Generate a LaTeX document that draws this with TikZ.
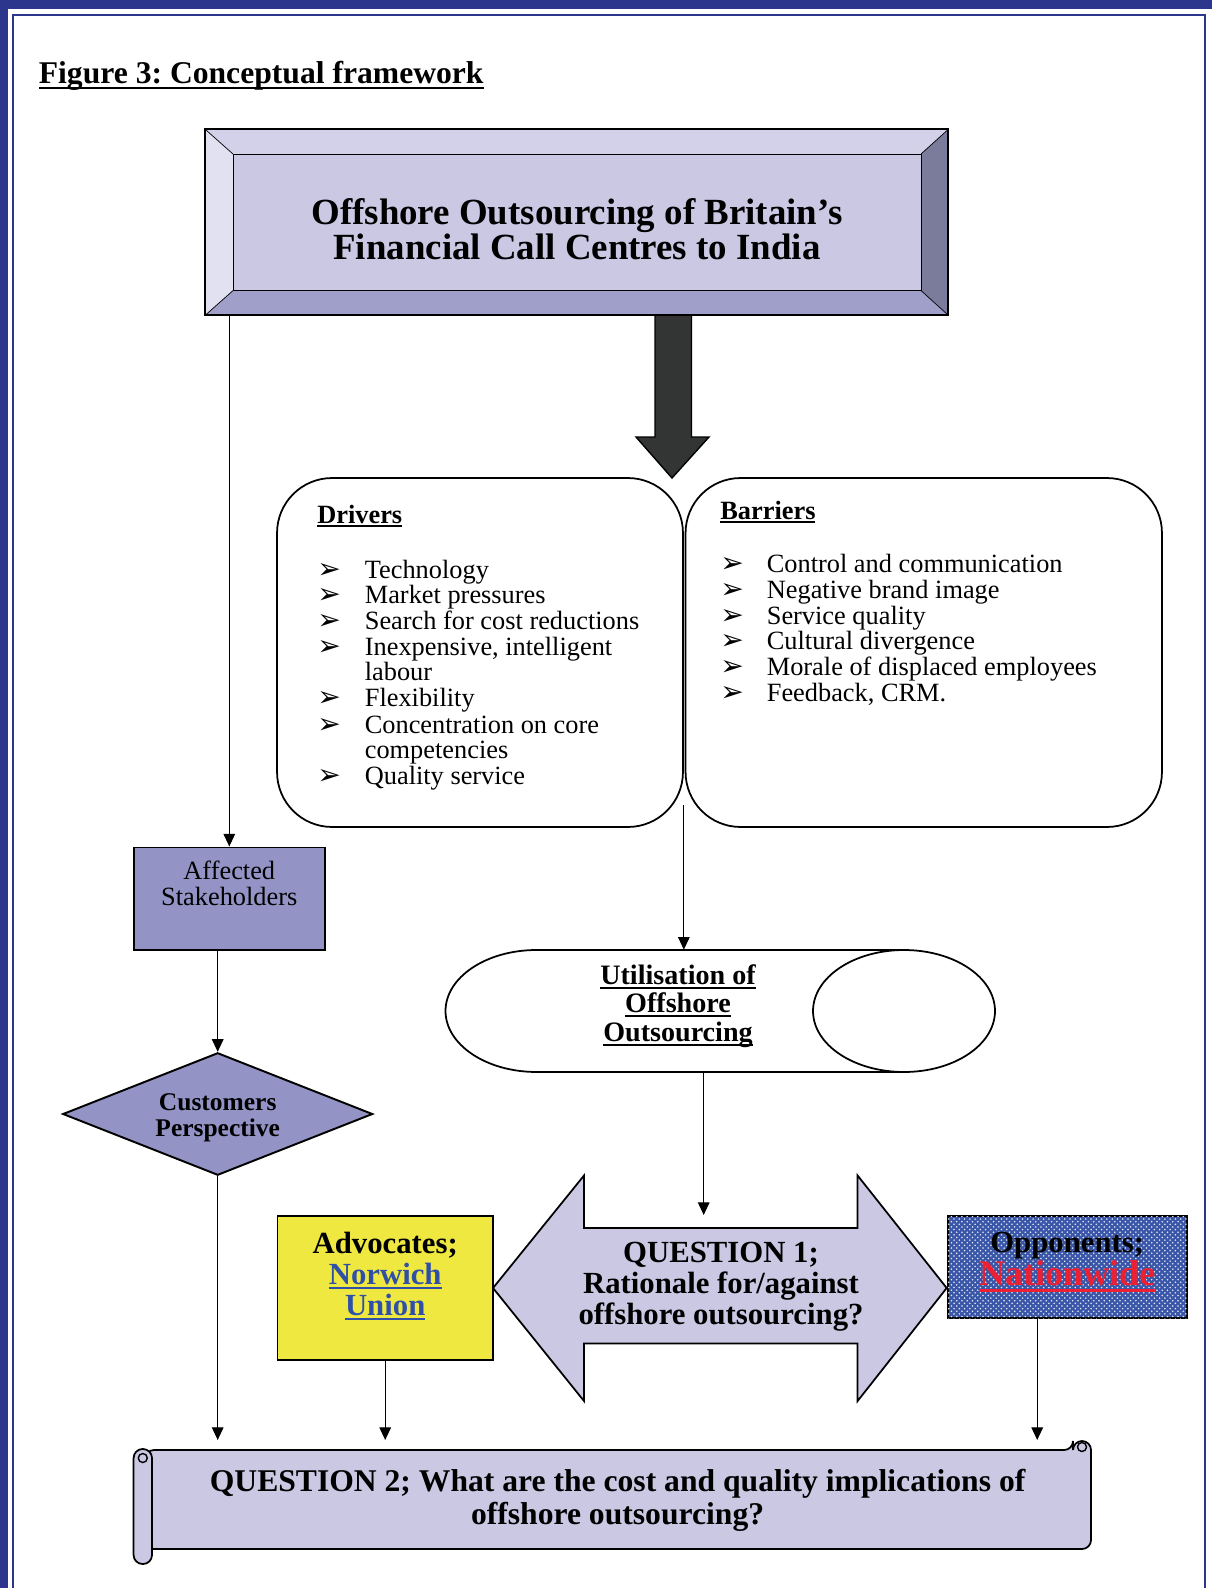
\documentclass[tikz,border=0pt]{standalone}
\usepackage{fontspec}
\setmainfont{Liberation Serif}
\newfontfamily\dingfont{DejaVu Sans}
\usetikzlibrary{arrows.meta,shapes.geometric,patterns}
\definecolor{pageblue}{RGB}{44,54,140}
\definecolor{lavender}{RGB}{203,200,228}
\definecolor{bevellight}{RGB}{226,225,241}
\definecolor{beveltop}{RGB}{211,209,233}
\definecolor{beveldark}{RGB}{123,123,156}
\definecolor{bevelbottom}{RGB}{160,159,201}
\definecolor{periwinkle}{RGB}{147,147,198}
\definecolor{advyellow}{RGB}{238,232,64}
\definecolor{oppblue}{RGB}{58,86,168}
\definecolor{linkblue}{RGB}{48,80,168}
\definecolor{linkred}{RGB}{236,32,48}
\definecolor{darkarrow}{RGB}{51,53,53}
\newcommand{\ulbold}[1]{\setbox0=\hbox{#1}\rlap{\rule[-0.16em]{\wd0}{0.075em}}\box0}
\frenchspacing
\begin{document}
\begin{tikzpicture}[x=0.02cm,y=-0.02cm,
    flow/.style={-{Triangle[length=7.2pt,width=6.6pt]},line width=0.7pt},
    shapeline/.style={draw=black,line width=1.1pt},
    listbox/.style={draw,line width=1pt,rounded corners=1.1cm,minimum height=6.98cm,inner sep=0pt},
    bodytext/.style={font=\fontsize{15}{14.7}\selectfont},
    boldtext/.style={font=\bfseries\fontsize{15}{14.7}\selectfont},
    bigbold/.style={font=\bfseries\fontsize{17.5}{17.6}\selectfont,align=center},
    itemtext/.style={anchor=base west,font=\fontsize{15}{14.6}\selectfont},
    bullet/.style={anchor=base west,inner sep=0pt,font=\dingfont\fontsize{16}{16}\selectfont},
    plainbox/.style={minimum width=#1,inner sep=0pt}]
    \useasboundingbox (0,0) rectangle (1212,1588);
    %page border
    \fill[pageblue] (0,0) rectangle (1212,9);
    \fill[pageblue] (0,0) rectangle (8,1588);
    \draw[pageblue,line width=1pt] (13,1588) -- (13,15) -- (1205,15) -- (1205,1588);
    %figure caption
    \node[anchor=base west,inner sep=0pt,font=\bfseries\fontsize{18}{20}\selectfont] (caption) at (38.5,84) {\ulbold{Figure 3: Conceptual framework}};

    %big arrow down
    \draw[fill=darkarrow,line width=0.8pt] (655,315) -- (655,437) -- (636,437) -- (672,478) -- (709,437) -- (691.5,437) -- (691.5,315) -- cycle;

    %title box with bevel
    \node[plainbox=14.85cm,minimum height=3.708cm] (topbox) at (576.75,222.3) {};
    \fill[bevellight] (205.5,129.6) -- (233,154) -- (233,290.6) -- (205.5,315) -- cycle;
    \fill[beveltop] (205.5,129.6) -- (948,129.6) -- (921,154) -- (233,154) -- cycle;
    \fill[beveldark] (948,129.6) -- (948,315) -- (921,290.6) -- (921,154) -- cycle;
    \fill[bevelbottom] (205.5,315) -- (233,290.6) -- (921,290.6) -- (948,315) -- cycle;
    \fill[lavender] (233,154) rectangle (921,290.6);
    \draw[thin] (233,154) rectangle (921,290.6);
    \draw[thin] (205.5,129.6) -- (233,154) (948,129.6) -- (921,154) (205.5,315) -- (233,290.6) (948,315) -- (921,290.6);
    \draw[shapeline] (topbox.north west) rectangle (topbox.south east);
    \node[font=\bfseries\fontsize{21}{20}\selectfont,align=center] (title) at (577,229) {Offshore Outsourcing of Britain's\\Financial Call Centres to India};

    %drivers and barriers
    \node[listbox,minimum width=8.12cm] (drivers) at (480,652.5) {};
    \node[listbox,minimum width=9.53cm] (barriers) at (923.75,652.5) {};
    \node[boldtext,anchor=base west,inner sep=0pt] (drvhead) at (317,523) {\ulbold{Drivers}};
    \node[boldtext,anchor=base west,inner sep=0pt] (barhead) at (720,519) {\ulbold{Barriers}};
    \foreach \yy [count=\i] in {578,603.5,629,655,706.5,733,784.5}
        {%
            \node[bullet] (drvbul\i) at (317,\yy) {➢};
        }
    \foreach \yy/\txt [count=\i] in {578/Technology,603.5/Market pressures,629/Search for cost reductions,655/{Inexpensive, intelligent},680.5/labour,706.5/Flexibility,733/Concentration on core,758/competencies,784.5/Quality service}
        {%
            \node[itemtext,inner sep=0pt] (drvitem\i) at (364.5,\yy) {\txt};
        }
    \foreach \yy/\txt [count=\i] in {572/Control and communication,598/Negative brand image,624/Service quality,649/Cultural divergence,675/Morale of displaced employees,701.5/{Feedback, CRM.}}
        {%
            \node[bullet] (barbul\i) at (720,\yy) {➢};
            \node[itemtext,inner sep=0pt] (baritem\i) at (766.5,\yy) {\txt};
        }

    %stakeholders side
    \node[shapeline,fill=periwinkle,plainbox=3.83cm,minimum height=2.05cm] (stake) at (229.3,898.7) {};
    \node[bodytext,align=center] (staketext) at (229.3,883) {Affected\\Stakeholders};
    \node[shapeline,fill=periwinkle,diamond,aspect=2.5,minimum width=6.2cm,minimum height=2.45cm,inner sep=0pt] (custp) at (217.7,1114) {};
    \node[font=\bfseries\fontsize{14.5}{14.7}\selectfont,align=center] (custtext) at (217.7,1118) {Customers\\Perspective};

    %utilisation cylinder
    \node[plainbox=10.99cm,minimum height=2.44cm] (util) at (720.25,1011) {};
    \draw[line width=1pt] (904,950) -- (536.5,950) arc (90:270:1.82cm and 1.22cm) -- (904,1072);
    \draw[line width=1pt] (904,1011) ellipse [x radius=1.82cm,y radius=1.22cm];
    \node[font=\bfseries\fontsize{16}{16.3}\selectfont,align=center] (utiltext) at (678,1006) {\ulbold{Utilisation of}\\\ulbold{Offshore}\\\ulbold{Outsourcing}};

    %question 1 double arrow
    \draw[line width=1pt,fill=lavender] (493,1288) -- (584,1175.5) -- (584,1228) -- (857.6,1228) -- (857.6,1175.5) -- (946.7,1288) -- (857.6,1401) -- (857.6,1343.6) -- (584,1343.6) -- (584,1401) -- cycle;
    \node[bigbold] (qone) at (721,1287) {QUESTION 1;\\Rationale for/against\\offshore outsourcing?};
    \coordinate (qonetop) at (703.7,1215);

    %advocates and opponents
    \node[shapeline,fill=advyellow,plainbox=4.31cm,minimum height=2.88cm] (adv) at (385.2,1288) {};
    \node[bigbold] (advtext) at (385.2,1276) {Advocates;\\\textcolor{linkblue}{\ulbold{Norwich}}\\\textcolor{linkblue}{\ulbold{Union}}};
    \node[shapeline,fill=oppblue,postaction={pattern=crosshatch dots,pattern color=white!85!oppblue},plainbox=4.78cm,minimum height=2.04cm] (opp) at (1067.2,1267) {};
    \node[bigbold] (opptext) at (1067.2,1262) {Opponents;\\\textcolor{linkred}{\fontsize{20.5}{18}\selectfont\ulbold{Nationwide}}};

    %question 2 scroll
    \node[plainbox=18.92cm,minimum height=1.98cm] (scroll) at (618,1499.5) {};
    \draw[line width=1pt,fill=lavender,rounded corners=0.18cm] (1073,1450) -- (1073,1441) -- (1091,1441) -- (1091,1549) -- (145,1549) -- (145,1450) -- cycle;
    \draw[line width=1pt,fill=lavender,rounded corners=0.18cm] (133.6,1449) rectangle (152,1564);
    \draw[line width=0.8pt] (142.8,1458) circle [radius=0.09cm];
    \draw[line width=0.8pt] (1082,1447) circle [radius=0.09cm];
    \node[bigbold,font=\bfseries\fontsize{18}{18.4}\selectfont] (qtwo) at (617.6,1500.5) {QUESTION 2; What are the cost and quality implications of\\offshore outsourcing?};

    %connectors
    \draw[flow] (stake.north |- topbox.south) -- (stake.north);
    \draw[flow] (custp.north |- stake.south) -- (custp.north);
    \draw[flow] ([yshift=0.45cm]drivers.south east) -- (drivers.south east |- util.north);
    \draw[flow] (qonetop |- util.south) -- (qonetop);
    \draw[flow,shorten >=5.5pt] (custp.south) -- (custp.south |- scroll.north);
    \draw[flow,shorten >=5.5pt] (adv.south) -- (adv.south |- scroll.north);
    \draw[flow,shorten >=5.5pt] ([xshift=-0.6cm]opp.south) -- ([xshift=-0.6cm]opp.south |- scroll.north);
\end{tikzpicture}
\end{document}
